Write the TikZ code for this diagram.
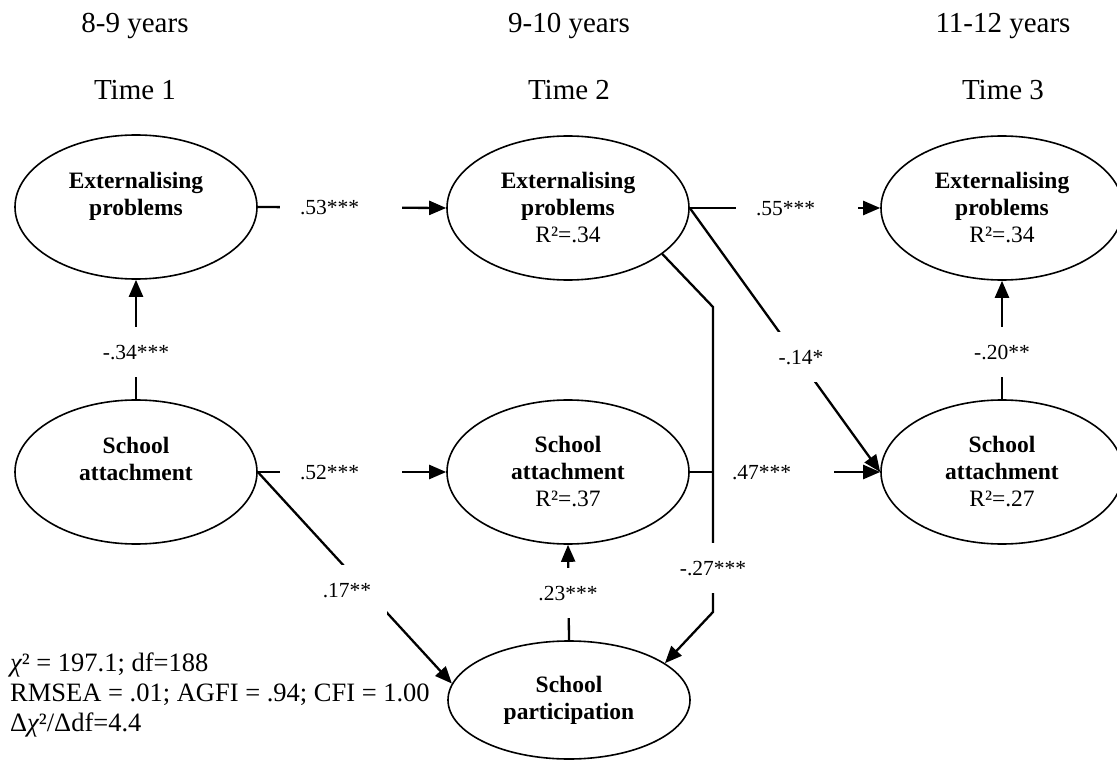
\documentclass[tikz,border=0pt]{standalone}
\usepackage{fontspec}
\setmainfont{Liberation Serif}
\usetikzlibrary{arrows.meta,shapes.geometric}
\begin{document}
\begin{tikzpicture}[x=1pt,y=-1pt,
  latent/.style={ellipse, draw, line width=1.6pt, minimum width=242pt, minimum height=144pt,
    inner sep=0pt, align=center, font=\fontsize{23.5}{27}\selectfont},
  arr/.style={line width=2.3pt, -{Triangle[length=17pt,width=14pt]}},
  lab/.style={font=\fontsize{21.5}{25}\selectfont, text height=15pt, text depth=0pt, fill=white},
  hlab/.style={lab, inner xsep=20pt, inner ysep=4pt, text width=82pt, align=left},
  vlab/.style={lab, inner xsep=3pt, inner ysep=17.5pt},
  dlab/.style={lab, inner xsep=16pt, inner ysep=17.5pt},
  hdr/.style={font=\fontsize{29}{33}\selectfont, anchor=base, inner sep=0pt},
]
\useasboundingbox (0,0) rectangle (1117,762);
\clip (0,0) rectangle (1117,762);

% headers
\node[hdr] (h1) at (135,33) {8-9 years};
\node[hdr] (h2) at (569,33) {9-10 years};
\node[hdr] (h3) at (1003,33) {11-12 years};
\node[hdr] (t1) at (135,100) {Time 1};
\node[hdr] (t2) at (569,100) {Time 2};
\node[hdr] (t3) at (1003,100) {Time 3};

% latent variables
\node[latent] (ext1) at (136,207) {\textbf{Externalising}\\\textbf{problems}\\\mbox{}};
\node[latent] (ext2) at (568,208) {\textbf{Externalising}\\\textbf{problems}\\R²=.34};
\node[latent] (ext3) at (1002,208) {\textbf{Externalising}\\\textbf{problems}\\R²=.34};
\node[latent] (sch1) at (136,472) {\textbf{School}\\\textbf{attachment}\\\mbox{}};
\node[latent] (sch2) at (568,472) {\textbf{School}\\\textbf{attachment}\\R²=.37};
\node[latent] (sch3) at (1002,472) {\textbf{School}\\\textbf{attachment}\\R²=.27};
\node[latent, minimum height=118pt] (part) at (569,700) {\textbf{School}\\\textbf{participation}};

% fit statistics
\node[font=\fontsize{26.5}{30}\selectfont, align=left, anchor=west, inner sep=0pt] (fit) at (10,695)
  {{\itshape χ}² = 197.1; df=188\\RMSEA = .01; AGFI = .94; CFI = 1.00\\Δ{\itshape χ}²/Δdf=4.4};

% horizontal paths
\draw[arr] (ext1.east) -- (ext2.west);
\node[hlab] (l53) at (341,207) {.53***};
\draw[arr] (sch1.east) -- (sch2.west);
\node[hlab] (l52) at (341,472) {.52***};
\draw[arr] (ext2.east) -- (ext3.west);
\node[hlab] (l55) at (797,208) {.55***};
\draw[arr] (sch2.east) -- (sch3.west);
\node[hlab] (l47) at (773,472) {.47***};

% vertical paths
\draw[arr] (sch1.north) -- (ext1.south);
\node[vlab] (l34) at (136,352) {-.34***};
\draw[arr] (sch3.north) -- (ext3.south);
\node[vlab] (l20) at (1002,352) {-.20**};
\draw[arr] (part.north) -- (sch2.south);
\node[vlab] (l23) at (568,593) {.23***};

% diagonal paths
\draw[arr] (sch1.east) -- (part.172);
\node[dlab] (l17) at (347,590) {.17**};
\draw[arr] (ext2.east) -- (sch3.west);
\node[vlab] (l14) at (801,357) {-.14*};

% bent path
\coordinate (k1) at (713,307);
\coordinate (k2) at (713,612);
\draw[arr] (ext2.-26) -- (k1) -- (k2) -- (part.21);
\node[vlab] (l27) at (713,568) {-.27***};
\end{tikzpicture}
\end{document}
